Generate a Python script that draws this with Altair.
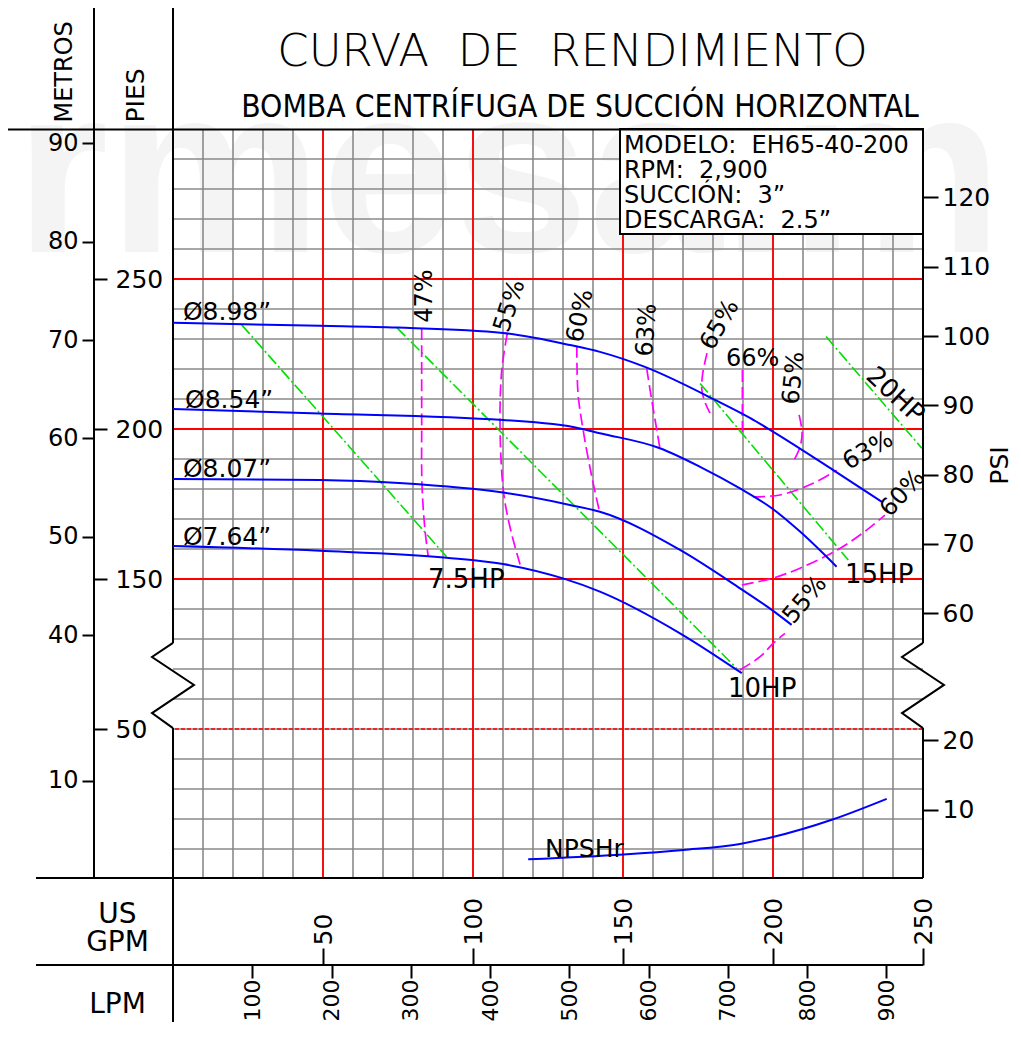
import altair as alt
import pandas as pd

FONT = "DejaVu Sans"
NARROW = "'DejaVu Sans Condensed', 'Liberation Sans Narrow', 'Arial Narrow', sans-serif"

# ---------------- unit conversions / broken head axis ----------------
LPM_PER_GPM = 3.78541
FT_PER_M = 3.28084
FT_PER_PSI = 2.31
BREAK_AT = 100      # heads (ft) below this are drawn in the lower band
BREAK_SHIFT = 50    # lower band is shifted up by this many display units


def disp(ft):
    return ft if ft >= BREAK_AT else ft + BREAK_SHIFT


# ---------------- axis tick values ----------------
GPM_TICKS = [50, 100, 150, 200, 250]
LPM_TICKS = [100, 200, 300, 400, 500, 600, 700, 800, 900]
METROS_TICKS = [90, 80, 70, 60, 50, 40, 10]
PIES_TICKS = [250, 200, 150, 50]
PSI_TICKS = [120, 110, 100, 90, 80, 70, 60, 20, 10]

# grid
GRID_GPM = list(range(10, 250, 10))
GRID_D = list(range(60, 300, 10))
RED_GPM = [50, 100, 150, 200]
RED_FT = [250, 200, 150]
RED_FT_LOW = [50]

# ---------------- head curves (US GPM, ft) ----------------
DIAMETERS = ["Ø8.98”", "Ø8.54”", "Ø8.07”", "Ø7.64”"]
D898_GPM = [0, 49, 74.7, 110, 132.3, 142.3, 157.3, 180.7, 192.3, 199.7, 220.1, 236.3]
D898_FT = [235.4, 234.4, 233.8, 232.0, 228.0, 225.7, 220.7, 209.7, 203.7, 199.3, 186.3, 175.7]
D854_GPM = [0, 49, 110, 135.7, 142.3, 162.3, 175.7, 189, 199.6, 209, 221.2]
D854_FT = [206.7, 205.2, 203.0, 200.2, 198.6, 193.6, 187.4, 180.2, 173.6, 165.8, 154.1]
D807_GPM = [0, 49, 76.7, 110, 132.3, 142.3, 169, 189, 199.6, 206.2]
D807_FT = [183.3, 183.0, 181.9, 178.8, 174.7, 172.4, 159.7, 146.9, 139.7, 134.7]
D764_GPM = [0, 49, 91.2, 110, 130, 142.3, 169, 189.6]
D764_FT = [161.0, 159.4, 157.1, 155.0, 150.2, 145.8, 131.9, 118.6]

# ---------------- efficiency contours (US GPM, ft) ----------------
E47_GPM = [82.9, 82.9, 83.0, 84.0, 85.1]
E47_FT = [233.6, 203.0, 181.3, 166.3, 157.4]
E55_GPM = [111.4, 109.6, 109.0, 110.1, 112.3, 115.9]
E55_FT = [231.7, 219.7, 201.9, 179.7, 167.4, 154.1]
E60_GPM = [134.6, 135.0, 136.7, 139.6, 142.3]
E60_FT = [227.7, 212.0, 199.7, 184.1, 171.9]
E63_GPM = [157.9, 159.3, 160.7, 162.3]
E63_FT = [220.2, 211.3, 203.0, 193.6]
E65A_GPM = [178.0, 176.5, 176.3, 177.3, 179.0]
E65A_FT = [225.3, 218.0, 213.0, 209.0, 205.3]
E66_GPM = [189.8, 189.8]
E66_FT = [219.7, 199.0]
E65B_GPM = [208.7, 209.7, 209.0, 206.7]
E65B_FT = [204.7, 198.7, 194.0, 189.0]
E63B_GPM = [193.4, 202.3, 213.4, 221.2]
E63B_FT = [177.4, 178.0, 181.9, 186.3]
E60B_GPM = [189.6, 199.6, 209.0, 222.3, 231.2, 237.3]
E60B_FT = [148.0, 150.2, 153.6, 160.2, 166.3, 171.3]
E55B_GPM = [189.0, 195.7, 200.1, 204.0]
E55B_FT = [119.7, 124.1, 128.6, 131.9]

# ---------------- power lines (US GPM, ft) ----------------
HP_NAMES = ["7.5HP", "10HP", "15HP", "20HP"]
HP_GPM = [[22.9, 91.2], [74.6, 187.9], [175.7, 225.1], [217.7, 249.6]]
HP_FT = [[234.7, 157.4], [233.8, 120.2], [215.2, 156.3], [230.8, 193.6]]

# ---------------- NPSHr (US GPM, ft) ----------------
NPSH_GPM = [118.4, 150.1, 170.1, 189.0, 199.6, 220.1, 237.9]
NPSH_FT = [6.6, 8.2, 9.7, 11.7, 13.9, 19.9, 26.7]

# ---------------- info box ----------------
INFO_LINES = ["MODELO:\u00a0\u00a0EH65-40-200", "RPM:\u00a0\u00a02,900",
              "SUCCIÓN:\u00a0\u00a03”", "DESCARGA:\u00a0\u00a02.5”"]

# ---------------- build tables ----------------
def curve_rows(name, gx, gy):
    return [{"name": name, "i": i, "gpm": a, "d": disp(b)} for i, (a, b) in enumerate(zip(gx, gy))]

heads = pd.DataFrame(
    curve_rows(DIAMETERS[0], D898_GPM, D898_FT) + curve_rows(DIAMETERS[1], D854_GPM, D854_FT)
    + curve_rows(DIAMETERS[2], D807_GPM, D807_FT) + curve_rows(DIAMETERS[3], D764_GPM, D764_FT))
effs = pd.DataFrame(
    curve_rows("47", E47_GPM, E47_FT) + curve_rows("55", E55_GPM, E55_FT)
    + curve_rows("60", E60_GPM, E60_FT) + curve_rows("63", E63_GPM, E63_FT)
    + curve_rows("65a", E65A_GPM, E65A_FT) + curve_rows("66", E66_GPM, E66_FT)
    + curve_rows("65b", E65B_GPM, E65B_FT) + curve_rows("63b", E63B_GPM, E63B_FT)
    + curve_rows("60b", E60B_GPM, E60B_FT) + curve_rows("55b", E55B_GPM, E55B_FT))
hps = pd.DataFrame(sum([curve_rows(n, g, f) for n, g, f in zip(HP_NAMES, HP_GPM, HP_FT)], []))
npsh = pd.DataFrame(curve_rows("NPSHr", NPSH_GPM, NPSH_FT))

# annotation placement (GPM, display head)
LBL_LEFT = pd.DataFrame({
    "text": DIAMETERS + HP_NAMES[:3] + ["NPSHr"],
    "gpm": [3.3, 4.0, 3.3, 3.3, 85.0, 185.0, 224.0, 124.0],
    "d": [236.2, 207.0, 184.0, 161.3, 147.0, 110.7, 148.7, 57.3],
    "size": [25, 25, 25, 25, 26, 26, 26, 25],
})
LBL_ROT = pd.DataFrame({
    "text": ["47%", "55%", "60%", "63%", "65%", "66%", "65%", "63%", "60%", "55%", "20HP"],
    "gpm": [84.0, 112.3, 135.8, 158.0, 182.3, 193.2, 207.0, 231.7, 243.2, 210.7, 240.7],
    "d": [244.3, 241.0, 237.7, 233.0, 234.7, 223.3, 217.0, 192.7, 178.5, 143.0, 211.3],
    "angle": [270, 288, 282, 274, 300, 0, 276, 330, 312, 310, 43],
    "size": [24, 24, 24, 24, 24, 24, 24, 24, 24, 24, 26],
})
INFO = pd.DataFrame({"text": INFO_LINES, "gpm": [150.3] * 4, "d": [292.0, 283.7, 275.3, 267.0]})
BOX = pd.DataFrame({"g1": [149.0], "g2": [250.0], "d1": [265.0], "d2": [300.0]})
ZIG = pd.DataFrame({
    "side": ["L"] * 5 + ["R"] * 5,
    "i": list(range(5)) * 2,
    "gpm": [0, -7, 7, -7, 0, 250, 243, 257, 243, 250],
    "d": [128.7, 124, 114.7, 105.3, 100.3] * 2,
})

# ---------------- scales & axes ----------------
XS = alt.Scale(domain=[0, 250], nice=False, zero=False)
YS = alt.Scale(domain=[50, 300], nice=False, zero=False)

common = dict(labelFont=FONT, labelColor="black", titleFont=FONT, titleColor="black",
              titleFontWeight="normal", tickColor="black", tickWidth=2, domain=False,
              grid=False, labelOverlap=False, labelFlush=False, zindex=1)

gpm_axis = alt.Axis(orient="top", offset=-836, values=GPM_TICKS, tickSize=17,
                    labelAngle=270, labelAlign="left", labelBaseline="middle",
                    labelFontSize=25, labelPadding=3, title=["US", "GPM"],
                    titleFontSize=28, titleAngle=0, titleAlign="center",
                    titleBaseline="alphabetic", titleX=-56, titleY=-43, titleLineHeight=28,
                    **common)
lpm_axis = alt.Axis(orient="bottom", offset=86, values=[v / LPM_PER_GPM for v in LPM_TICKS],
                    labelExpr="format(datum.value * 3.78541, '.0f')", tickSize=13,
                    labelAngle=270, labelAlign="right", labelBaseline="middle",
                    labelFontSize=22, labelPadding=1, title="LPM", titleFontSize=28,
                    titleAngle=0, titleAlign="center", titleBaseline="alphabetic",
                    titleX=-56, titleY=47, **common)
metros_axis = alt.Axis(orient="left", offset=79, values=[disp(m * FT_PER_M) for m in METROS_TICKS],
                       labelExpr="format((datum.value > 100 ? datum.value : datum.value - 50) / 3.28084, '.0f')",
                       tickSize=12, labelPadding=4, labelFontSize=24, title="METROS",
                       titleFontSize=24, titleAngle=270, titleAlign="left", titleBaseline="middle",
                       titleX=-30, titleY=-7, **common)
pies_axis = alt.Axis(orient="right", offset=-829, values=[disp(f) for f in PIES_TICKS],
                     labelExpr="format(datum.value > 100 ? datum.value : datum.value - 50, '.0f')",
                     tickSize=13, labelPadding=8, labelFontSize=25, title="PIES",
                     titleFontSize=25, titleAngle=270, titleAlign="left", titleBaseline="middle",
                     titleX=41, titleY=-7, **common)
psi_axis = alt.Axis(orient="right", offset=0, values=[disp(p * FT_PER_PSI) for p in PSI_TICKS],
                    labelExpr="format((datum.value > 100 ? datum.value : datum.value - 50) / 2.31, '.0f')",
                    tickSize=15, labelPadding=4, labelFontSize=25, title="PSI",
                    titleFontSize=25, titleAngle=270, titleAlign="center", titleBaseline="middle",
                    titleX=76, titleY=336, **common)


def X(field="gpm", axis=None):
    return alt.X(f"{field}:Q", scale=XS, axis=axis)


def Y(field="d", axis=None):
    return alt.Y(f"{field}:Q", scale=YS, axis=axis)


ONE = pd.DataFrame({"k": [0]})

# ---------------- layers ----------------
watermark = alt.Chart(ONE).mark_text(
    text="rmesa.m", font="Liberation Sans", fontWeight="bold", fontSize=240,
    color="#f4f4f4", align="left", baseline="alphabetic").encode(x=alt.value(-158), y=alt.value(123))

gray = dict(color="#8a8a8a", strokeWidth=1.6)
vgrid = alt.Chart(pd.DataFrame({"gpm": GRID_GPM})).mark_rule(**gray).encode(x=X(axis=gpm_axis))
hgrid = alt.Chart(pd.DataFrame({"d": GRID_D})).mark_rule(**gray).encode(y=Y(axis=metros_axis))
red_v = alt.Chart(pd.DataFrame({"gpm": RED_GPM})).mark_rule(color="#ff0000", strokeWidth=1.8).encode(x=X(axis=lpm_axis))
red_h = alt.Chart(pd.DataFrame({"d": [disp(f) for f in RED_FT]})).mark_rule(
    color="#ff0000", strokeWidth=1.8).encode(y=Y(axis=pies_axis))
red_h2 = alt.Chart(pd.DataFrame({"d": [disp(f) for f in RED_FT_LOW]})).mark_rule(
    color="#ff0000", strokeWidth=1.5, strokeDash=[4, 2]).encode(y=Y())

box = alt.Chart(BOX).mark_rect(fill="white", stroke="black", strokeWidth=2).encode(
    x=X("g1"), x2="g2", y=Y("d1"), y2="d2")
info = alt.Chart(INFO).mark_text(font=FONT, fontSize=24, align="left", baseline="alphabetic",
                                 color="black").encode(x=X(), y=Y(), text="text:N")


def vrule(x, y1, y2):
    return alt.Chart(ONE).mark_rule(color="black", strokeWidth=2).encode(
        x=alt.value(x), y=alt.value(y1), y2=alt.value(y2))


def hrule(y, x1, x2):
    return alt.Chart(ONE).mark_rule(color="black", strokeWidth=2).encode(
        y=alt.value(y), x=alt.value(x1), x2=alt.value(x2))


frame = [
    vrule(-79, -122, 749), vrule(0, -122, 514), vrule(0, 599, 912),
    vrule(750, 0, 514), vrule(750, 599, 749),
    hrule(0.5, -168, 750), hrule(749, -137, 750), hrule(836, -137, 750),
]
zig = alt.Chart(ZIG).mark_line(color="black", strokeWidth=2).encode(
    x=X(), y=Y(), detail="side:N", order="i:Q")

hp_lines = alt.Chart(hps).mark_line(color="#00e000", strokeWidth=1.6, strokeDash=[12, 3, 2, 3]).encode(
    x=X(), y=Y(), detail="name:N", order="i:Q")
eff_lines = alt.Chart(effs).mark_line(color="#ff00ff", strokeWidth=1.7, strokeDash=[12, 5],
                                      interpolate="catmull-rom").encode(
    x=X(), y=Y(), detail="name:N", order="i:Q")
head_lines = alt.Chart(heads).mark_line(color="#0000ff", strokeWidth=2, interpolate="monotone").encode(
    x=X(), y=Y(axis=psi_axis), detail="name:N", order="i:Q")
npsh_line = alt.Chart(npsh).mark_line(color="#0000ff", strokeWidth=2, interpolate="monotone").encode(
    x=X(), y=Y(), order="i:Q")

lbl_left = alt.Chart(LBL_LEFT).mark_text(font=FONT, align="left", baseline="alphabetic", color="black").encode(
    x=X(), y=Y(), text="text:N", size=alt.Size("size:Q", scale=None))
lbl_rot = alt.Chart(LBL_ROT).mark_text(font=FONT, align="center", baseline="middle", color="black").encode(
    x=X(), y=Y(), text="text:N", size=alt.Size("size:Q", scale=None),
    angle=alt.Angle("angle:Q", scale=None))

title1 = alt.Chart(ONE).mark_text(
    text="CURVA\u00a0\u00a0DE\u00a0\u00a0RENDIMIENTO", font=FONT, fontSize=45, fontWeight=300,
    align="center", baseline="alphabetic", color="black").encode(x=alt.value(399.5), y=alt.value(-63))
title2 = alt.Chart(ONE).mark_text(
    text="BOMBA CENTRÍFUGA DE SUCCIÓN HORIZONTAL", font=NARROW, fontSize=31.5, fontWeight=300,
    align="center", baseline="alphabetic", color="black").encode(x=alt.value(407), y=alt.value(-12))

chart = alt.layer(
    watermark, vgrid, hgrid, red_v, red_h, red_h2, box, info, *frame, zig,
    hp_lines, eff_lines, head_lines, npsh_line, lbl_left, lbl_rot, title1, title2,
).resolve_axis(x="independent", y="independent").properties(
    width=750, height=750,
    padding={"left": 165, "top": 121, "right": 90, "bottom": 143},
    autosize=alt.AutoSizeParams(type="none"),
    background="white",
).configure_view(stroke=None)

chart.save("out.html", embed_options={"renderer": "svg", "actions": False})
